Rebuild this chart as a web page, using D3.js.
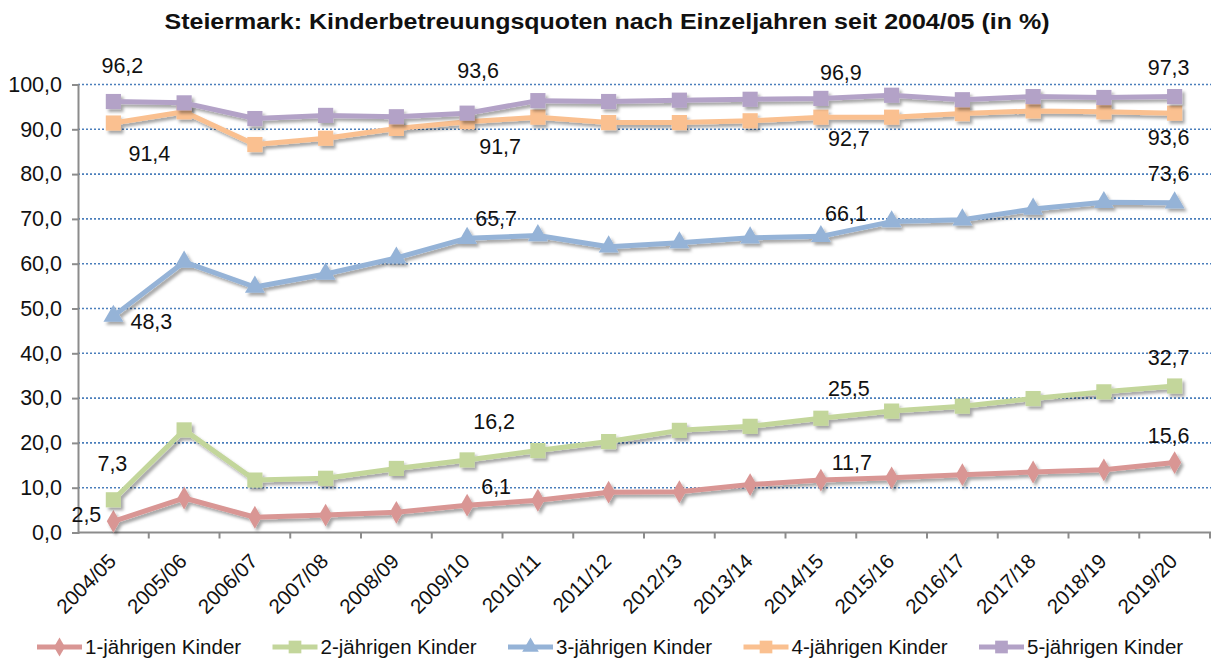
<!DOCTYPE html>
<html lang="de">
  <head>
    <meta charset="utf-8">
    <title>Steiermark: Kinderbetreuungsquoten</title>
    <script src="https://d3js.org/d3.v7.min.js"></script>
    <style type="text/css">
      body, html {
        margin: 0;
        padding: 0;
        background: #fff;
        font-family: "Liberation Sans", Arial, sans-serif;
      }
      .grid line { stroke: #4a7ebb; stroke-width: 1.6; stroke-dasharray: 2,2; }
      .axis path, .axis line { stroke: #8c8c8c; stroke-width: 2; }
    </style>
  </head>
  <body>
    <script type="text/javascript">

      var w = 1211;
      var h = 659;

      // school years
      var years = ["2004/05", "2005/06", "2006/07", "2007/08", "2008/09", "2009/10", "2010/11", "2011/12",
                   "2012/13", "2013/14", "2014/15", "2015/16", "2016/17", "2017/18", "2018/19", "2019/20"];

      var seriesNames = ["1-jährigen Kinder", "2-jährigen Kinder", "3-jährigen Kinder", "4-jährigen Kinder", "5-jährigen Kinder"];

      var einJahr  = [2.5, 7.7, 3.4, 3.9, 4.5, 6.1, 7.2, 9.0, 9.1, 10.7, 11.7, 12.2, 12.9, 13.5, 14.0, 15.6];
      var zweiJahr = [7.3, 22.9, 11.7, 12.1, 14.3, 16.2, 18.3, 20.3, 22.8, 23.7, 25.5, 27.1, 28.2, 29.9, 31.4, 32.7];
      var dreiJahr = [48.3, 60.4, 54.8, 57.7, 61.3, 65.7, 66.3, 63.8, 64.7, 65.8, 66.1, 69.4, 69.8, 72.2, 73.7, 73.6];
      var vierJahr = [91.4, 93.9, 86.6, 88.0, 90.2, 91.7, 92.7, 91.5, 91.5, 91.9, 92.7, 92.7, 93.5, 94.1, 93.9, 93.6];
      var fuenfJahr = [96.2, 95.9, 92.4, 93.1, 92.8, 93.6, 96.4, 96.2, 96.5, 96.7, 96.9, 97.6, 96.6, 97.3, 97.1, 97.3];

      var yTicks = [0, 10, 20, 30, 40, 50, 60, 70, 80, 90, 100];

      // which points carry a data label
      var labelIdx = [0, 5, 10, 15];

      var allSeries = [einJahr, zweiJahr, dreiJahr, vierJahr, fuenfJahr];
      var colors = ["#d99694", "#c3d69b", "#95b3d7", "#fac090", "#b3a2c7"];
      var shapes = [d3.symbolDiamond, d3.symbolSquare, d3.symbolTriangle, d3.symbolSquare, d3.symbolSquare];
      var shapeSize = [150, 230, 170, 230, 230];

      // label offsets [dx, dy] from the point, one row per series
      var labelOffsets = [
        [[-27, 1], [29, -11], [31, -10], [-6, -20]],
        [[-1, -29], [27, -31], [28, -22], [-6, -21]],
        [[38, 13], [29, -12], [25, -15], [-6, -22]],
        [[36, 38], [33, 32], [28, 29], [-6, 32]],
        [[9, -29], [11, -35], [20, -18], [-6, -22]]
      ];

      var margin = {top: 84.5, right: 1, bottom: 126, left: 78};

      var svg = d3.select("body")
        .append("svg")
        .attr("width", w)
        .attr("height", h);

      var defs = svg.append("defs");
      var filt = defs.append("filter")
        .attr("id", "shadow")
        .attr("x", "-20%").attr("y", "-20%")
        .attr("width", "140%").attr("height", "140%");
      filt.append("feDropShadow")
        .attr("dx", 2.5)
        .attr("dy", 3)
        .attr("stdDeviation", 1.6)
        .attr("flood-color", "#000")
        .attr("flood-opacity", 0.35);

      var x = d3.scaleBand()
        .domain(years)
        .range([margin.left, w - margin.right])
        .paddingInner(0)
        .paddingOuter(0);

      var y = d3.scaleLinear()
        .domain([0, 100])
        .range([h - margin.bottom - 0.5, margin.top]);

      function cx(i) { return x(years[i]) + x.bandwidth() / 2; }
      var fmt = function(v) { return d3.format(".1f")(v).replace(".", ","); };

      // title
      svg.append("text")
        .attr("x", 607)
        .attr("y", 29)
        .attr("text-anchor", "middle")
        .attr("textLength", 885)
        .attr("lengthAdjust", "spacingAndGlyphs")
        .style("font-weight", "bold")
        .style("font-size", "21.5px")
        .style("fill", "#111")
        .text("Steiermark: Kinderbetreuungsquoten nach Einzeljahren seit 2004/05 (in %)");

      // gridlines
      svg.append("g")
        .attr("class", "grid")
        .selectAll("line")
        .data(yTicks.filter(function(d) { return d > 0; }))
        .enter()
        .append("line")
        .attr("x1", margin.left)
        .attr("x2", w)
        .attr("y1", function(d) { return y(d); })
        .attr("y2", function(d) { return y(d); });

      // y axis
      var yAxis = svg.append("g")
        .attr("class", "axis")
        .attr("transform", "translate(" + margin.left + ",0)")
        .call(d3.axisLeft(y).tickValues(yTicks).tickFormat(fmt).tickSize(6).tickPadding(10));
      yAxis.selectAll("text")
        .style("font-size", "21.5px")
        .style("font-family", "'Liberation Sans', Arial, sans-serif")
        .style("fill", "#111");

      // x axis with ticks between categories
      var xAxis = svg.append("g")
        .attr("class", "axis")
        .attr("transform", "translate(0," + y(0) + ")");
      xAxis.append("line")
        .attr("x1", margin.left)
        .attr("x2", w)
        .attr("y1", 0)
        .attr("y2", 0);
      xAxis.selectAll(".tk")
        .data(years)
        .enter()
        .append("line")
        .attr("class", "tk")
        .attr("x1", function(d) { return x(d) + x.bandwidth(); })
        .attr("x2", function(d) { return x(d) + x.bandwidth(); })
        .attr("y1", 0)
        .attr("y2", 6);
      xAxis.selectAll(".lbl")
        .data(years)
        .enter()
        .append("text")
        .attr("class", "lbl")
        .attr("text-anchor", "end")
        .attr("transform", function(d) {
          return "translate(" + (x(d) + x.bandwidth() / 2 + 4) + ",30) rotate(-45)";
        })
        .style("font-size", "20.5px")
        .style("fill", "#111")
        .text(function(d) { return d; });

      // lines + markers
      var line = d3.line()
        .x(function(d, i) { return cx(i); })
        .y(function(d) { return y(d); });

      allSeries.forEach(function(vals, s) {
        var g = svg.append("g").attr("filter", "url(#shadow)");
        g.append("path")
          .datum(vals)
          .attr("d", line)
          .attr("fill", "none")
          .attr("stroke", colors[s])
          .attr("stroke-width", 5)
          .attr("stroke-linejoin", "round");
        g.selectAll(".m")
          .data(vals)
          .enter()
          .append("path")
          .attr("class", "m")
          .attr("transform", function(d, i) { return "translate(" + cx(i) + "," + y(d) + ")"; })
          .attr("d", d3.symbol().type(shapes[s]).size(shapeSize[s]))
          .attr("fill", colors[s]);
      });

      // data labels
      allSeries.forEach(function(vals, s) {
        svg.append("g")
          .selectAll("text")
          .data(labelIdx)
          .enter()
          .append("text")
          .attr("x", function(i, k) { return cx(i) + labelOffsets[s][k][0]; })
          .attr("y", function(i, k) { return y(vals[i]) + labelOffsets[s][k][1]; })
          .attr("text-anchor", "middle")
          .style("font-size", "21.5px")
          .style("fill", "#111")
          .text(function(i) { return fmt(vals[i]); });
      });

      // legend
      var leg = svg.append("g")
        .attr("transform", "translate(37,647)");
      var item = leg.selectAll("g")
        .data(seriesNames)
        .enter()
        .append("g")
        .attr("transform", function(d, i) { return "translate(" + (i * 235.5) + ",0)"; });
      item.append("line")
        .attr("x1", 0)
        .attr("x2", 45)
        .attr("stroke", function(d, i) { return colors[i]; })
        .attr("stroke-width", 5);
      item.append("path")
        .attr("transform", "translate(22.5,0)")
        .attr("d", function(d, i) { return d3.symbol().type(shapes[i]).size(shapeSize[i] * 0.7)(); })
        .attr("fill", function(d, i) { return colors[i]; });
      item.append("text")
        .attr("x", 48)
        .attr("dy", "0.35em")
        .style("font-size", "20.5px")
        .style("fill", "#111")
        .text(function(d) { return d; });

    </script>
  </body>
</html>
